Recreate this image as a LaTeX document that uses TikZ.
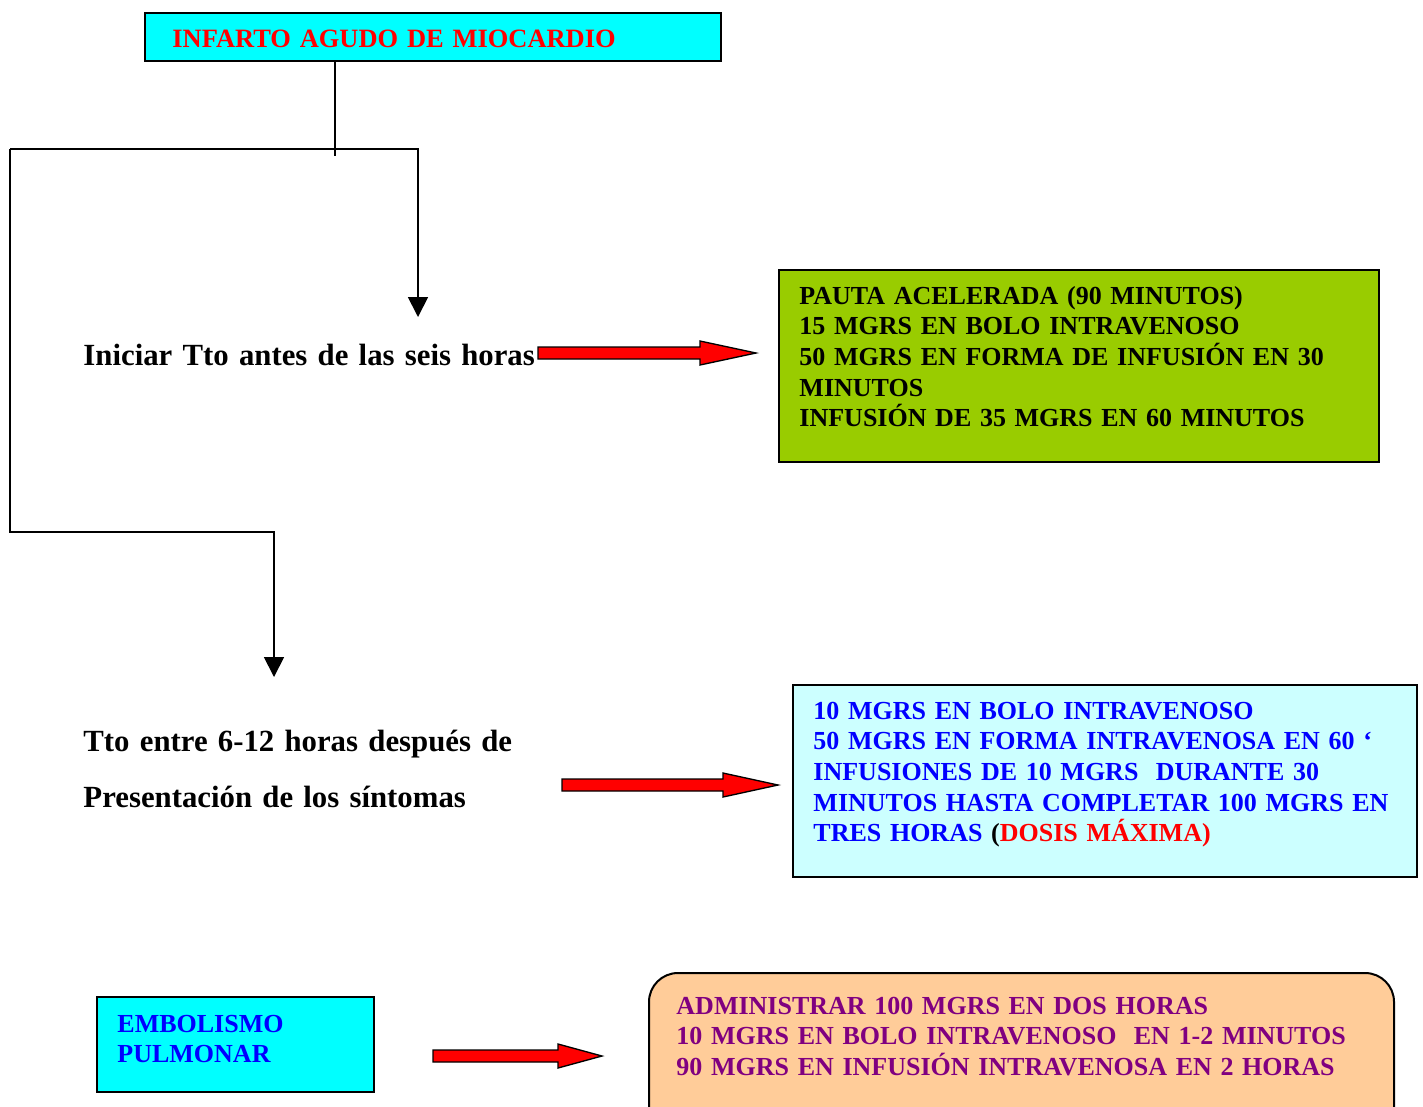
\documentclass[tikz,border=0pt]{standalone}
\usepackage{fontspec}
\setmainfont{Liberation Serif}
\usepackage{tikz}
\usetikzlibrary{arrows.meta, positioning, shapes, calc}

\definecolor{BoxCyan}{RGB}{0, 255, 255}
\definecolor{LightCyan}{RGB}{204, 255, 255}
\definecolor{PautaGreen}{RGB}{153, 204, 0}
\definecolor{PeachOrange}{RGB}{255, 204, 153}
\definecolor{TextBlue}{RGB}{0, 0, 255}
\definecolor{TextPurple}{RGB}{128, 0, 128}
\definecolor{AlertRed}{RGB}{255, 0, 0}

\begin{document}
\begin{tikzpicture}[x=0.45pt, y=-0.45pt,
    box/.style={draw, line width=0.9pt, inner sep=0pt, anchor=north west},
    boxtext/.style={anchor=base west, inner sep=0pt, text width=400pt, align=left, font=\fontsize{11.7}{13.8}\selectfont\bfseries},
    bigtext/.style={anchor=base west, inner sep=0pt, text width=300pt, align=left, font=\fontsize{13.85}{25.2}\selectfont\bfseries},
    flowline/.style={line width=0.8pt},
    flowarrow/.style={line width=0.8pt, -{Triangle[length=9pt, width=9pt]}},
    redarrow/.style={fill=AlertRed, draw=black, line width=0.6pt, line join=miter}]

    \clip (0,0) rectangle (1423,1106);

    % Title
    \node[box, fill=BoxCyan, minimum width=576*0.45pt, minimum height=48*0.45pt] (infarto) at (144,12) {};
    \node[boxtext, text=AlertRed, font=\fontsize{11.9}{13.8}\selectfont\bfseries] (infartotext) at ([shift={(28,35)}]infarto.north west) {INFARTO AGUDO DE MIOCARDIO};

    % Branches
    \coordinate (fork) at (335,149);
    \coordinate (forkleft) at (10,149);
    \coordinate (forkright) at (418,149);
    \coordinate (forkdown) at (10,532);
    \coordinate (bendright) at (274,532);
    \coordinate (tipiniciar) at (418,317);
    \coordinate (tiptto) at (274,677);
    \draw[flowline] (infarto.south -| fork) -- ($(fork)+(0,7)$);
    \draw[flowarrow] (forkleft) -- (forkright) -- (tipiniciar);
    \draw[flowarrow] (forkright -| forkleft) -- (forkdown) -- (bendright) -- (tiptto);

    % Left labels
    \node[bigtext] (iniciar) at (83,365) {Iniciar Tto antes de las seis horas};
    \node[bigtext] (tto) at (83,751) {Tto entre 6-12 horas después de\\Presentación de los síntomas};

    % Accelerated schedule
    \node[box, fill=PautaGreen, minimum width=600*0.45pt, minimum height=192*0.45pt] (pauta) at (778,269) {};
    \node[boxtext] (pautatext) at ([shift={(21,35)}]pauta.north west) {PAUTA ACELERADA (90 MINUTOS)\\15 MGRS EN BOLO INTRAVENOSO\\50 MGRS EN FORMA DE INFUSIÓN EN 30\\MINUTOS\\INFUSIÓN DE 35 MGRS EN 60 MINUTOS};

    % 6-12 hours schedule
    \node[box, fill=LightCyan, minimum width=624*0.45pt, minimum height=192*0.45pt] (bolo) at (792,684) {};
    \node[boxtext, text=TextBlue] (bolotext) at ([shift={(21,35)}]bolo.north west) {10 MGRS EN BOLO INTRAVENOSO\\50 MGRS EN FORMA INTRAVENOSA EN 60 ‘\\INFUSIONES DE 10 MGRS\ \ DURANTE 30\\MINUTOS HASTA COMPLETAR 100 MGRS EN\\TRES HORAS \textcolor{black}{(}\textcolor{AlertRed}{DOSIS MÁXIMA)}};

    % Pulmonary embolism
    \node[box, fill=BoxCyan, minimum width=277*0.45pt, minimum height=95*0.45pt] (embolismo) at (96,996) {};
    \node[boxtext, text=TextBlue] (embolismotext) at ([shift={(21,36)}]embolismo.north west) {EMBOLISMO\\PULMONAR};
    \node[box, rounded corners=13pt, fill=PeachOrange, minimum width=745*0.45pt, minimum height=170*0.45pt] (administrar) at (648,972) {};
    \node[boxtext, text=TextPurple] (administrartext) at ([shift={(28,42)}]administrar.north west) {ADMINISTRAR 100 MGRS EN DOS HORAS\\10 MGRS EN BOLO INTRAVENOSO\ \ EN 1-2 MINUTOS\\90 MGRS EN INFUSIÓN INTRAVENOSA EN 2 HORAS};

    % Red block arrows
    \foreach \xa/\xh/\xb/\y in {538/700/756/353, 562/723/778/785, 433/558/602/1056} {
        \draw[redarrow] (\xa,\y-6) -- (\xh,\y-6) -- (\xh,\y-12) -- (\xb,\y) -- (\xh,\y+12) -- (\xh,\y+6) -- (\xa,\y+6) -- cycle;
    }
\end{tikzpicture}
\end{document}
